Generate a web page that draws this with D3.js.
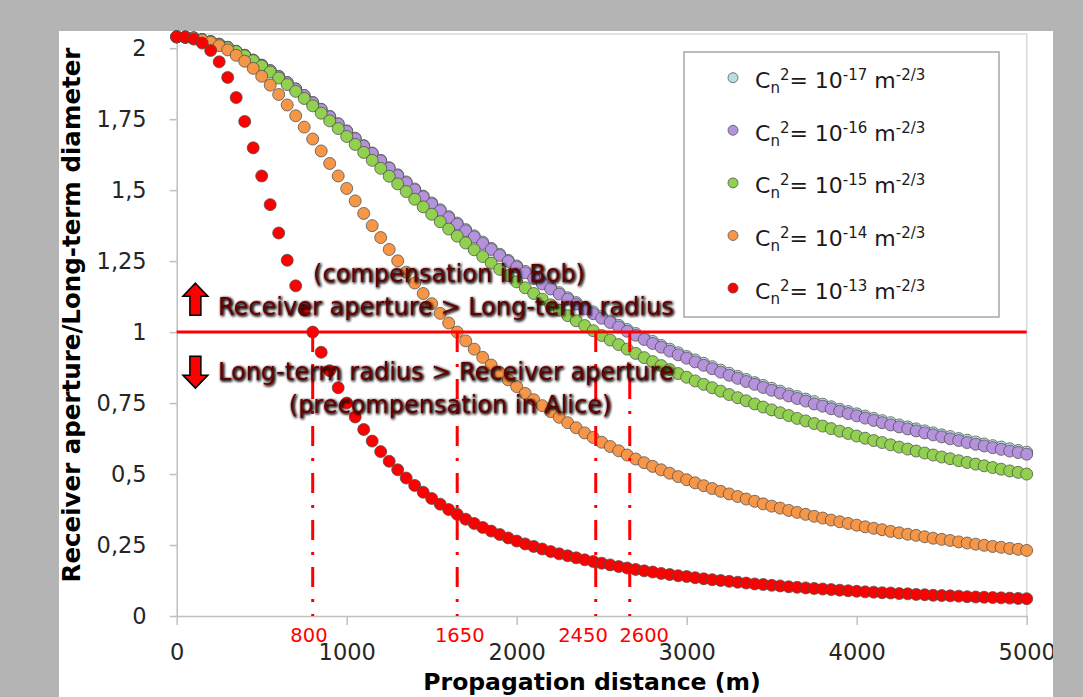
<!DOCTYPE html>
<html>
<head>
<meta charset="utf-8">
<script src="https://cdn.jsdelivr.net/npm/d3@7"></script>
<style>
  html, body { margin: 0; padding: 0; background: #b4b4b4; }
  svg { display: block; font-family: 'DejaVu Sans', sans-serif; }
</style>
</head>
<body>
<div id="chart"></div>
<script>
// propagation distance (m), one point every 50 m
const distance = [
  0, 50, 100, 150, 200, 250, 300, 350, 400, 450,
  500, 550, 600, 650, 700, 750, 800, 850, 900, 950,
  1000, 1050, 1100, 1150, 1200, 1250, 1300, 1350, 1400, 1450,
  1500, 1550, 1600, 1650, 1700, 1750, 1800, 1850, 1900, 1950,
  2000, 2050, 2100, 2150, 2200, 2250, 2300, 2350, 2400, 2450,
  2500, 2550, 2600, 2650, 2700, 2750, 2800, 2850, 2900, 2950,
  3000, 3050, 3100, 3150, 3200, 3250, 3300, 3350, 3400, 3450,
  3500, 3550, 3600, 3650, 3700, 3750, 3800, 3850, 3900, 3950,
  4000, 4050, 4100, 4150, 4200, 4250, 4300, 4350, 4400, 4450,
  4500, 4550, 4600, 4650, 4700, 4750, 4800, 4850, 4900, 4950,
  5000];

// receiver aperture / long-term diameter for each Cn^2
const cn17 = [
  2.040, 2.039, 2.036, 2.030, 2.023, 2.014, 2.003, 1.989, 1.975, 1.958,
  1.940, 1.921, 1.901, 1.879, 1.857, 1.833, 1.809, 1.785, 1.760, 1.734,
  1.709, 1.683, 1.657, 1.631, 1.605, 1.579, 1.554, 1.529, 1.504, 1.479,
  1.455, 1.431, 1.407, 1.384, 1.361, 1.339, 1.317, 1.295, 1.274, 1.253,
  1.233, 1.214, 1.194, 1.175, 1.157, 1.139, 1.121, 1.104, 1.087, 1.071,
  1.055, 1.039, 1.024, 1.009, 0.995, 0.980, 0.967, 0.953, 0.940, 0.927,
  0.914, 0.902, 0.890, 0.878, 0.866, 0.855, 0.844, 0.833, 0.822, 0.812,
  0.802, 0.792, 0.782, 0.773, 0.764, 0.755, 0.746, 0.737, 0.728, 0.720,
  0.712, 0.704, 0.696, 0.688, 0.681, 0.673, 0.666, 0.659, 0.652, 0.645,
  0.638, 0.632, 0.625, 0.619, 0.613, 0.606, 0.600, 0.595, 0.589, 0.583,
  0.577];
const cn16 = [
  2.040, 2.039, 2.036, 2.030, 2.023, 2.014, 2.003, 1.989, 1.975, 1.958,
  1.940, 1.921, 1.900, 1.879, 1.856, 1.833, 1.808, 1.784, 1.758, 1.733,
  1.707, 1.681, 1.655, 1.629, 1.603, 1.577, 1.551, 1.526, 1.501, 1.476,
  1.451, 1.427, 1.403, 1.380, 1.357, 1.335, 1.312, 1.291, 1.270, 1.249,
  1.229, 1.209, 1.189, 1.170, 1.152, 1.134, 1.116, 1.099, 1.082, 1.065,
  1.049, 1.034, 1.018, 1.003, 0.989, 0.974, 0.960, 0.947, 0.933, 0.920,
  0.908, 0.895, 0.883, 0.871, 0.859, 0.848, 0.837, 0.826, 0.816, 0.805,
  0.795, 0.785, 0.775, 0.766, 0.757, 0.747, 0.739, 0.730, 0.721, 0.713,
  0.705, 0.697, 0.689, 0.681, 0.673, 0.666, 0.659, 0.652, 0.645, 0.638,
  0.631, 0.624, 0.618, 0.611, 0.605, 0.599, 0.593, 0.587, 0.581, 0.576,
  0.570];
const cn15 = [
  2.040, 2.039, 2.036, 2.030, 2.023, 2.013, 2.002, 1.988, 1.973, 1.956,
  1.937, 1.916, 1.895, 1.872, 1.848, 1.823, 1.797, 1.771, 1.744, 1.717,
  1.689, 1.661, 1.633, 1.605, 1.577, 1.549, 1.522, 1.495, 1.468, 1.441,
  1.415, 1.389, 1.363, 1.338, 1.314, 1.290, 1.266, 1.243, 1.221, 1.199,
  1.177, 1.156, 1.136, 1.116, 1.096, 1.077, 1.058, 1.040, 1.023, 1.005,
  0.988, 0.972, 0.956, 0.940, 0.925, 0.910, 0.896, 0.882, 0.868, 0.854,
  0.841, 0.828, 0.816, 0.804, 0.792, 0.780, 0.769, 0.758, 0.747, 0.736,
  0.726, 0.716, 0.706, 0.696, 0.687, 0.678, 0.669, 0.660, 0.651, 0.643,
  0.634, 0.626, 0.618, 0.611, 0.603, 0.595, 0.588, 0.581, 0.574, 0.567,
  0.560, 0.554, 0.547, 0.541, 0.535, 0.529, 0.523, 0.517, 0.511, 0.506,
  0.500];
const cn14 = [
  2.040, 2.039, 2.036, 2.029, 2.021, 2.009, 1.994, 1.975, 1.954, 1.929,
  1.901, 1.870, 1.837, 1.800, 1.762, 1.722, 1.680, 1.638, 1.594, 1.550,
  1.506, 1.462, 1.418, 1.375, 1.333, 1.291, 1.251, 1.211, 1.173, 1.136,
  1.100, 1.066, 1.032, 1.000, 0.969, 0.940, 0.911, 0.884, 0.857, 0.832,
  0.808, 0.784, 0.762, 0.741, 0.720, 0.700, 0.681, 0.663, 0.645, 0.629,
  0.612, 0.597, 0.582, 0.567, 0.553, 0.540, 0.527, 0.515, 0.503, 0.491,
  0.480, 0.469, 0.459, 0.449, 0.439, 0.430, 0.421, 0.412, 0.404, 0.395,
  0.387, 0.380, 0.372, 0.365, 0.358, 0.351, 0.345, 0.338, 0.332, 0.326,
  0.320, 0.314, 0.309, 0.304, 0.298, 0.293, 0.288, 0.284, 0.279, 0.274,
  0.270, 0.266, 0.261, 0.257, 0.253, 0.249, 0.245, 0.242, 0.238, 0.235,
  0.231];
const cn13 = [
  2.040, 2.039, 2.032, 2.018, 1.992, 1.952, 1.897, 1.826, 1.742, 1.649,
  1.550, 1.449, 1.349, 1.253, 1.163, 1.078, 1.000, 0.929, 0.864, 0.804,
  0.750, 0.701, 0.657, 0.616, 0.579, 0.545, 0.515, 0.486, 0.460, 0.436,
  0.414, 0.394, 0.375, 0.358, 0.341, 0.326, 0.312, 0.299, 0.287, 0.275,
  0.264, 0.254, 0.245, 0.236, 0.227, 0.219, 0.212, 0.205, 0.198, 0.192,
  0.186, 0.180, 0.174, 0.169, 0.164, 0.159, 0.155, 0.150, 0.146, 0.142,
  0.139, 0.135, 0.131, 0.128, 0.125, 0.122, 0.119, 0.116, 0.113, 0.111,
  0.108, 0.106, 0.103, 0.101, 0.099, 0.097, 0.095, 0.093, 0.091, 0.089,
  0.087, 0.085, 0.084, 0.082, 0.081, 0.079, 0.078, 0.076, 0.075, 0.073,
  0.072, 0.071, 0.070, 0.068, 0.067, 0.066, 0.065, 0.064, 0.063, 0.062,
  0.061];

const seriesValues = [cn17, cn16, cn15, cn14, cn13];
const seriesExponents = ['-17', '-16', '-15', '-14', '-13'];
const seriesColors = ['#b7dee8', '#b592db', '#92d050', '#f79646', '#ff0000'];

const yTicks = [0, 0.25, 0.5, 0.75, 1, 1.25, 1.5, 1.75, 2];
const yTickLabels = ['0', '0,25', '0,5', '0,75', '1', '1,25', '1,5', '1,75', '2'];
const xTicks = [0, 1000, 2000, 3000, 4000, 5000];

// vertical dash-dot markers where each curve crosses 1
const crossDist = [800, 1650, 2465, 2665];
const crossLabels = ['800', '1650', '2450', '2600'];
const crossLabelDist = [778, 1665, 2390, 2750];

// annotation texts: [text, distance, ratio, anchor]
const noteTexts = [
  ['(compensation in Bob)', 1602, 1.176, 'middle'],
  ['Receiver aperture > Long-term radius', 243, 1.060, 'start'],
  ['Long-term radius > Receiver aperture', 243, 0.831, 'start'],
  ['(precompensation in Alice)', 1608, 0.715, 'middle']
];
const noteArrows = [['up', 110, 1.116], ['down', 110, 0.859]];

const width = 1083, height = 697;
const plot = { left: 176.7, right: 1026.7, top: 34, bottom: 616 };

const svg = d3.select('#chart').append('svg')
  .attr('width', width)
  .attr('height', height);

const defs = svg.append('defs');
const glow = defs.append('filter').attr('id', 'glow')
  .attr('x', '-5%').attr('y', '-30%').attr('width', '110%').attr('height', '160%');
glow.append('feGaussianBlur').attr('in', 'SourceAlpha').attr('stdDeviation', 1.4).attr('result', 'b');
glow.append('feOffset').attr('in', 'b').attr('dx', 1).attr('dy', 1.2).attr('result', 'o');
const merge = glow.append('feMerge');
merge.append('feMergeNode').attr('in', 'o');
merge.append('feMergeNode').attr('in', 'o');
merge.append('feMergeNode').attr('in', 'SourceGraphic');

svg.append('rect').attr('width', width).attr('height', height).attr('fill', '#b4b4b4');
svg.append('rect')
  .attr('x', 59).attr('y', 31)
  .attr('width', 996).attr('height', height - 31)
  .attr('fill', '#ffffff');

const x = d3.scaleLinear().domain([0, 5000]).range([plot.left, plot.right]);
const y = d3.scaleLinear().domain([0, 2.05]).range([plot.bottom, plot.top]);

// plot area border (top + right)
svg.append('path')
  .attr('d', `M${plot.left},${plot.top}H${plot.right}V${plot.bottom}`)
  .attr('fill', 'none')
  .attr('stroke', '#d9d9d9')
  .attr('stroke-width', 1.5);

const yAxis = svg.append('g')
  .attr('transform', `translate(${plot.left},0)`)
  .call(d3.axisLeft(y).tickValues(yTicks)
    .tickFormat((d, i) => yTickLabels[i])
    .tickSize(7).tickSizeOuter(0).tickPadding(23));
const xAxis = svg.append('g')
  .attr('transform', `translate(0,${plot.bottom})`)
  .call(d3.axisBottom(x).tickValues(xTicks)
    .tickFormat(d => String(d))
    .tickSize(9).tickSizeOuter(0).tickPadding(19));

[yAxis, xAxis].forEach(a => {
  a.select('.domain').attr('stroke', '#bfbfbf').attr('stroke-width', 1.5);
  a.selectAll('.tick line').attr('stroke', '#bfbfbf').attr('stroke-width', 1.5);
  a.selectAll('.tick text')
    .attr('fill', '#262626')
    .style('font-family', 'DejaVu Sans')
    .style('font-size', '22.5px');
});

// data points, first series at the back
seriesValues.forEach((vals, s) => {
  svg.append('g')
    .selectAll('circle')
    .data(vals)
    .join('circle')
    .attr('cx', (d, i) => x(distance[i]))
    .attr('cy', d => y(d))
    .attr('r', 6)
    .attr('fill', seriesColors[s])
    .attr('stroke', '#4d4d4d')
    .attr('stroke-opacity', 0.75)
    .attr('stroke-width', 1);
});

// threshold line at ratio 1
svg.append('line')
  .attr('x1', x(0)).attr('x2', x(5000))
  .attr('y1', y(1)).attr('y2', y(1))
  .attr('stroke', '#ff0000')
  .attr('stroke-width', 3);

svg.append('g')
  .selectAll('line')
  .data(crossDist)
  .join('line')
  .attr('x1', d => x(d)).attr('x2', d => x(d))
  .attr('y1', y(1)).attr('y2', y(0))
  .attr('stroke', '#ff0000')
  .attr('stroke-width', 3)
  .attr('stroke-dasharray', '20 12 3 12');

svg.append('g')
  .selectAll('text')
  .data(crossLabels)
  .join('text')
  .attr('x', (d, i) => x(crossLabelDist[i]))
  .attr('y', 642)
  .attr('text-anchor', 'middle')
  .attr('fill', '#ff0000')
  .style('font-size', '19.5px')
  .text(d => d);

// annotations
svg.append('g')
  .selectAll('text')
  .data(noteTexts)
  .join('text')
  .attr('x', d => x(d[1]))
  .attr('y', d => y(d[2]))
  .attr('text-anchor', d => d[3])
  .attr('fill', '#640000')
  .attr('filter', 'url(#glow)')
  .style('font-size', '24px')
  .text(d => d[0]);

svg.append('g')
  .selectAll('path')
  .data(noteArrows)
  .join('path')
  .attr('d', d => {
    const cx = x(d[1]), cy = y(d[2]);
    const s = d[0] === 'up' ? 1 : -1;
    return `M${cx},${cy - 16 * s}L${cx + 12.5},${cy - 3 * s}L${cx + 5.5},${cy - 3 * s}` +
      `L${cx + 5.5},${cy + 16 * s}L${cx - 5.5},${cy + 16 * s}L${cx - 5.5},${cy - 3 * s}` +
      `L${cx - 12.5},${cy - 3 * s}Z`;
  })
  .attr('fill', '#ff0000')
  .attr('stroke', '#000000')
  .attr('stroke-width', 1.5)
  .attr('stroke-linejoin', 'miter');

// axis titles
svg.append('text')
  .attr('x', 592).attr('y', 690)
  .attr('text-anchor', 'middle')
  .attr('fill', '#000')
  .style('font-size', '23.5px')
  .style('font-weight', 'bold')
  .text('Propagation distance (m)');
svg.append('text')
  .attr('transform', 'translate(80,315) rotate(-90)')
  .attr('text-anchor', 'middle')
  .attr('fill', '#000')
  .style('font-size', '24.5px')
  .style('font-weight', 'bold')
  .text('Receiver aperture/Long-term diameter');

// legend
const legend = svg.append('g').attr('transform', 'translate(684,52)');
legend.append('rect')
  .attr('width', 315).attr('height', 265)
  .attr('fill', '#ffffff')
  .attr('stroke', '#a6a6a6')
  .attr('stroke-width', 1.5);
seriesExponents.forEach((e, i) => {
  const ly = 25.7 + i * 52.6;
  legend.append('circle')
    .attr('cx', 49).attr('cy', ly).attr('r', 5)
    .attr('fill', seriesColors[i])
    .attr('stroke', '#4d4d4d')
    .attr('stroke-opacity', 0.75);
  const t = legend.append('text')
    .attr('x', 71).attr('y', ly + 10.5)
    .attr('fill', '#1a1a1a')
    .style('font-size', '22px');
  t.append('tspan').text('C');
  t.append('tspan').attr('dy', 5).style('font-size', '15px').text('n');
  t.append('tspan').attr('dy', -13).style('font-size', '15px').text('2');
  t.append('tspan').attr('dy', 8).text('= 10');
  t.append('tspan').attr('dy', -8).style('font-size', '15px').text(e);
  t.append('tspan').attr('dy', 8).text(' m');
  t.append('tspan').attr('dy', -8).style('font-size', '15px').text('-2/3');
});

// grey frame on the right edge covers the end of the last tick label
svg.append('rect')
  .attr('x', 1053).attr('y', 0)
  .attr('width', width - 1053).attr('height', height)
  .attr('fill', '#b4b4b4');
</script>
</body>
</html>
